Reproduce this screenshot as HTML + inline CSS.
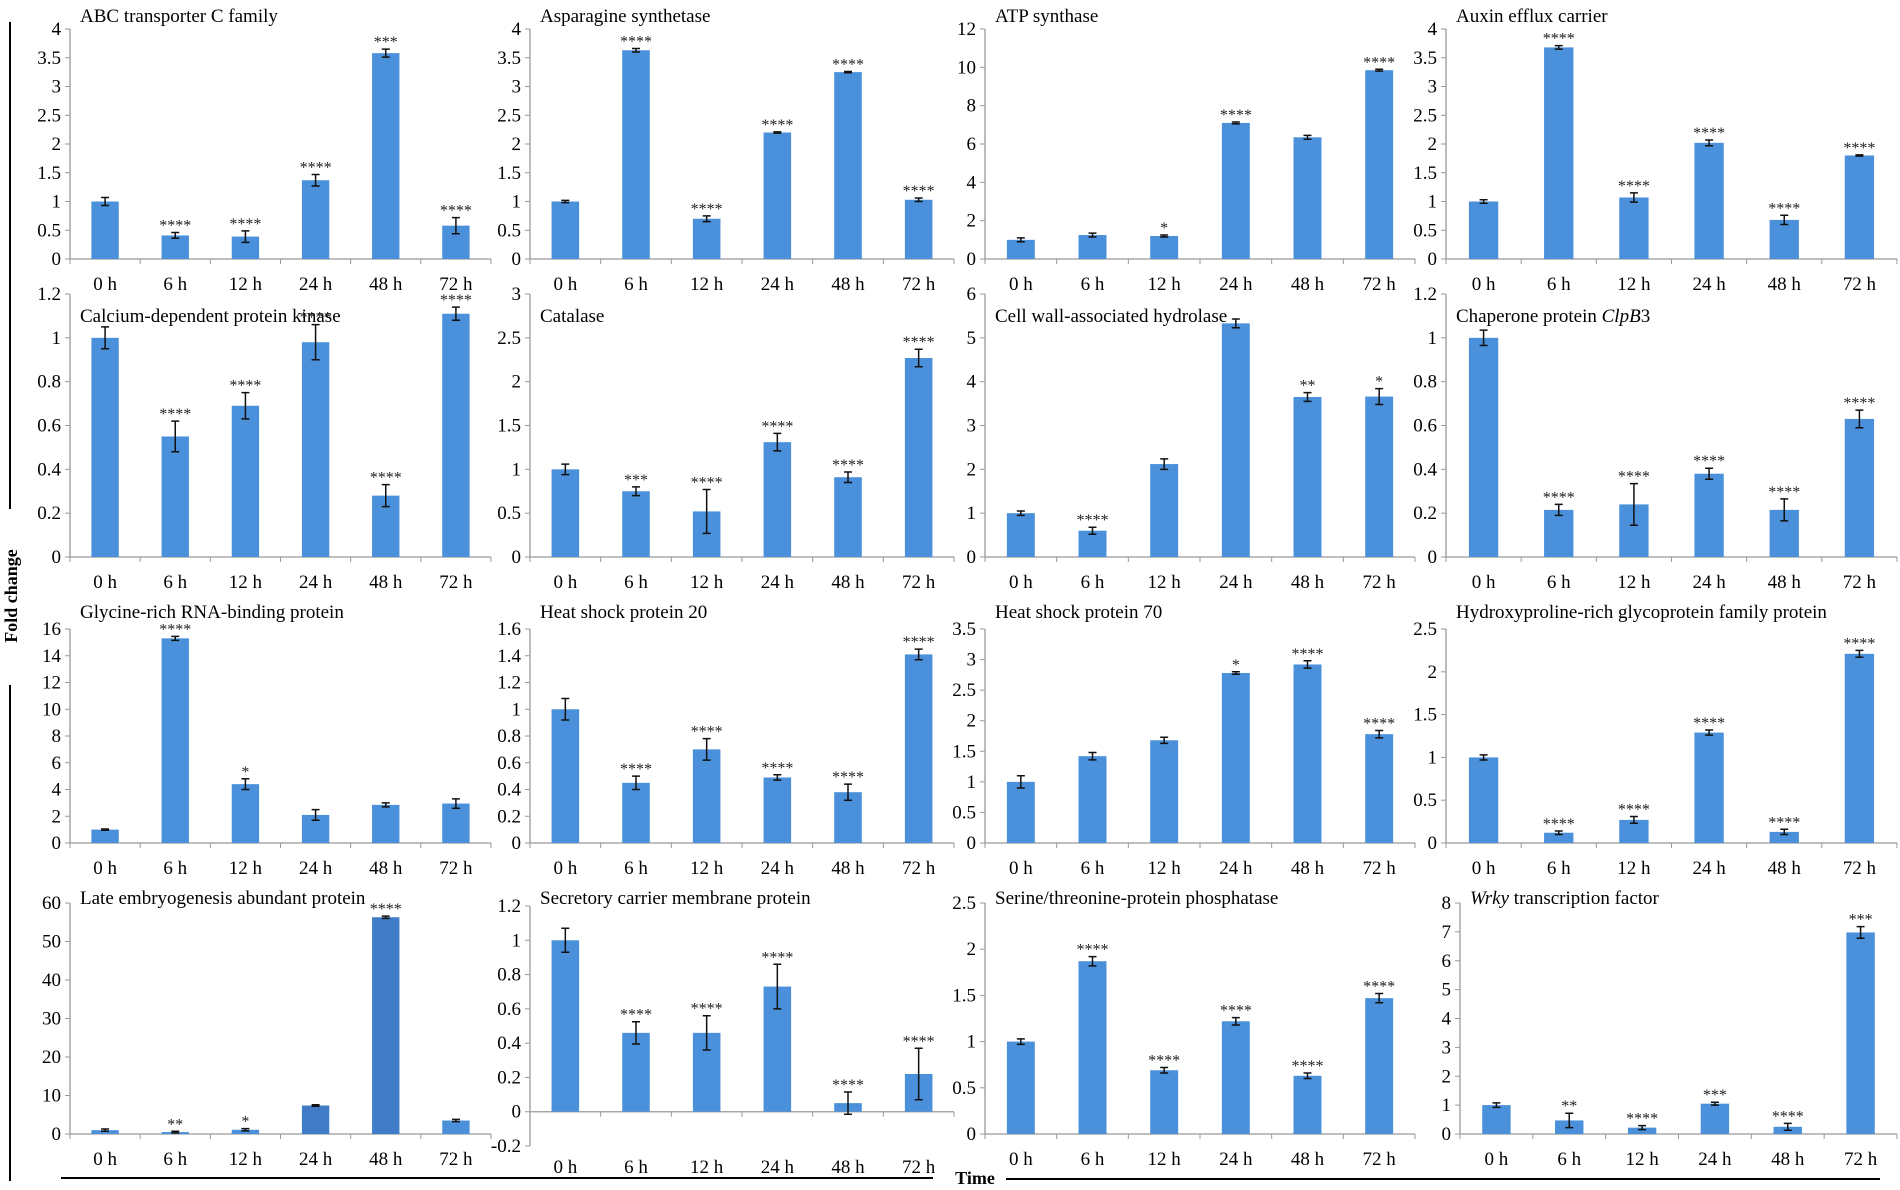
<!DOCTYPE html>
<html><head><meta charset="utf-8"><style>
html,body{margin:0;padding:0;background:#fff;}
svg{display:block;font-family:"Liberation Serif",serif;}
</style></head><body>
<svg id="s" width="1900" height="1190" xmlns="http://www.w3.org/2000/svg"></svg>
<script>
const TY=[22,322,618,904];
const P=[
["ABC transporter C family",70,491,29,259,0,4,0.5,[[1,.07,""],[.41,.05,"****"],[.39,.1,"****"],[1.37,.1,"****"],[3.58,.07,"***"],[.58,.14,"****"]]],
["Asparagine synthetase",530,954,29,259,0,4,0.5,[[1,.02,""],[3.63,.03,"****"],[.7,.05,"****"],[2.2,.01,"****"],[3.25,.01,"****"],[1.03,.03,"****"]]],
["ATP synthase",985,1415,29,259,0,12,2,[[1,.1,""],[1.25,.1,""],[1.2,.05,"*"],[7.1,.05,"****"],[6.35,.1,""],[9.85,.05,"****"]]],
["Auxin efflux carrier",1446,1897,29,259,0,4,0.5,[[1,.03,""],[3.68,.03,"****"],[1.07,.08,"****"],[2.02,.05,"****"],[.68,.08,"****"],[1.8,.01,"****"]]],
["Calcium-dependent protein kinase",70,491,294,557,0,1.2,0.2,[[1,.05,""],[.55,.07,"****"],[.69,.06,"****"],[.98,.08,"****"],[.28,.05,"****"],[1.11,.03,"****"]]],
["Catalase",530,954,294,557,0,3,0.5,[[1,.06,""],[.75,.05,"***"],[.52,.25,"****"],[1.31,.1,"****"],[.91,.06,"****"],[2.27,.1,"****"]]],
["Cell wall-associated hydrolase",985,1415,294,557,0,6,1,[[1,.05,""],[.6,.08,"****"],[2.12,.12,""],[5.33,.1,""],[3.65,.1,"**"],[3.66,.18,"*"]]],
["Chaperone protein <tspan font-style='italic'>ClpB</tspan>3",1446,1897,294,557,0,1.2,0.2,[[1,.035,""],[.215,.025,"****"],[.24,.095,"****"],[.38,.025,"****"],[.215,.05,"****"],[.63,.04,"****"]]],
["Glycine-rich RNA-binding protein",70,491,629,843,0,16,2,[[1,.05,""],[15.3,.15,"****"],[4.4,.4,"*"],[2.1,.4,""],[2.85,.15,""],[2.95,.35,""]]],
["Heat shock protein 20",530,954,629,843,0,1.6,0.2,[[1,.08,""],[.45,.05,"****"],[.7,.08,"****"],[.49,.02,"****"],[.38,.06,"****"],[1.41,.04,"****"]]],
["Heat shock protein 70",985,1415,629,843,0,3.5,0.5,[[1,.1,""],[1.42,.06,""],[1.68,.05,""],[2.78,.02,"*"],[2.92,.06,"****"],[1.78,.06,"****"]]],
["Hydroxyproline-rich glycoprotein family protein",1446,1897,629,843,0,2.5,0.5,[[1,.03,""],[.12,.02,"****"],[.27,.04,"****"],[1.29,.03,"****"],[.13,.03,"****"],[2.21,.04,"****"]]],
["Late embryogenesis abundant protein",70,491,903,1134,0,60,10,[[1,.3,""],[.5,.2,"**"],[1.1,.3,"*"],[7.4,.2,""],[56.3,.3,"****"],[3.5,.3,""]]],
["Secretory carrier membrane protein",530,954,906,1146,-0.2,1.2,0.2,[[1,.07,""],[.46,.065,"****"],[.46,.1,"****"],[.73,.13,"****"],[.05,.065,"****"],[.22,.15,"****"]]],
["Serine/threonine-protein phosphatase",985,1415,903,1134,0,2.5,0.5,[[1,.03,""],[1.87,.05,"****"],[.69,.03,"****"],[1.22,.04,"****"],[.63,.03,"****"],[1.47,.05,"****"]]],
["<tspan font-style='italic'>Wrky</tspan> transcription factor",1460,1897,903,1134,0,8,1,[[1,.08,""],[.47,.25,"**"],[.22,.07,"****"],[1.05,.05,"***"],[.25,.12,"****"],[6.98,.2,"***"]]]
];
const labs=["0 h","6 h","12 h","24 h","48 h","72 h"];
let o="";
P.forEach((p,i)=>{
 const [t,L,R,T,B,mn,mx,st,d]=p;
 const Y=v=>B-(v-mn)/(mx-mn)*(B-T);
 const y0=Y(0);
 const sp=(R-L)/6, bw=sp*0.39;
 const ly=(i==13)?1173:B+31;
 o+=`<text x="${L+10}" y="${TY[Math.floor(i/4)]}" font-size="19">${t}</text>`;
 o+=`<line x1="${L}" y1="${T}" x2="${L}" y2="${B}" stroke="#999" stroke-width="1.3"/>`;
 o+=`<line x1="${L}" y1="${y0}" x2="${R}" y2="${y0}" stroke="#999" stroke-width="1.3"/>`;
 const n=Math.round((mx-mn)/st);
 for(let k=0;k<=n;k++){const v=+(mn+k*st).toFixed(2);const y=Y(v);
  o+=`<line x1="${L-5}" y1="${y}" x2="${L}" y2="${y}" stroke="#999"/>`;
  o+=`<text x="${L-9}" y="${y+6}" font-size="19" text-anchor="end">${v}</text>`;}
 for(let k=0;k<=6;k++){o+=`<line x1="${L+k*sp}" y1="${y0}" x2="${L+k*sp}" y2="${y0+5}" stroke="#999"/>`;}
 d.forEach((b,k)=>{const cx=L+sp*(k+.5);const yv=Y(b[0]);
  const col=(i==12&&(k==3||k==4))?"#3f7bc6":"#4a90da";
  o+=`<rect x="${cx-bw/2}" y="${Math.min(yv,y0)}" width="${bw}" height="${Math.abs(y0-yv)}" fill="${col}"/>`;
  const et=Y(b[0]+b[1]),eb=Y(b[0]-b[1]);
  o+=`<path d="M${cx-4} ${et}H${cx+4}M${cx} ${et}V${eb}M${cx-4} ${eb}H${cx+4}" stroke="#111" stroke-width="1.5" fill="none"/>`;
  if(b[2])o+=`<text x="${cx}" y="${et-2}" font-size="16" text-anchor="middle" fill="#222">${b[2]}</text>`;
  o+=`<text x="${cx}" y="${ly}" font-size="19" text-anchor="middle">${labs[k]}</text>`;
 });
});
o+=`<line x1="10" y1="22" x2="10" y2="509" stroke="#000" stroke-width="2"/>`;
o+=`<line x1="10" y1="685" x2="10" y2="1181" stroke="#000" stroke-width="2"/>`;
o+=`<text transform="translate(17,596) rotate(-90)" font-size="18" font-weight="bold" text-anchor="middle">Fold change</text>`;
o+=`<line x1="61" y1="1178" x2="933" y2="1178" stroke="#000" stroke-width="2"/>`;
o+=`<line x1="1006" y1="1179" x2="1880" y2="1179" stroke="#000" stroke-width="2"/>`;
o+=`<text x="975" y="1184" font-size="18" font-weight="bold" text-anchor="middle">Time</text>`;
document.getElementById("s").innerHTML=o;
</script>
</body></html>
